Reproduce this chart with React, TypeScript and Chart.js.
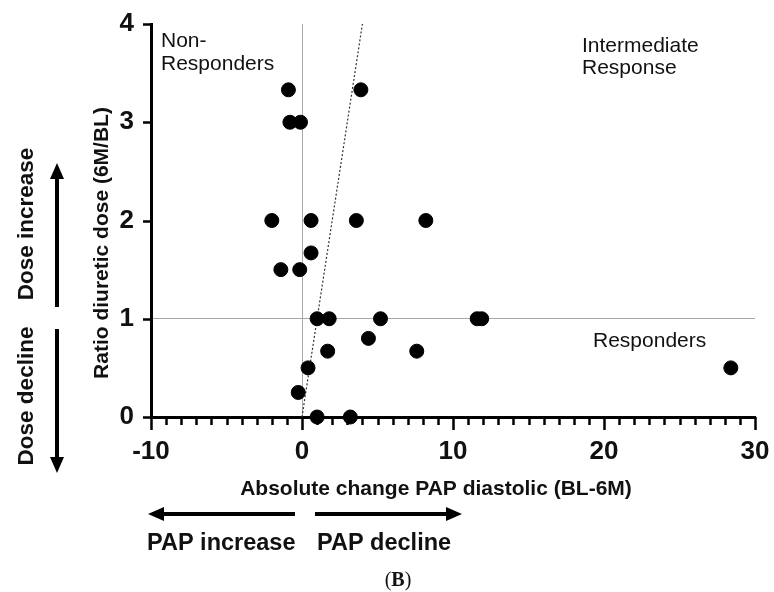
import React, { useEffect, useRef } from "react";
import { Chart, registerables } from "chart.js";

Chart.register(...registerables);

const xValues = [-0.9, 3.9, -0.8, -0.1, -2.0, 0.6, 3.6, 8.2, 0.6, -1.4, -0.15, 1.0, 1.8, 5.2, 11.6, 11.9, 4.4, 1.7, 7.6, 0.4, 28.4, -0.25, 1.0, 3.2];
const yValues = [3.33, 3.33, 3.0, 3.0, 2.0, 2.0, 2.0, 2.0, 1.67, 1.5, 1.5, 1.0, 1.0, 1.0, 1.0, 1.0, 0.8, 0.67, 0.67, 0.5, 0.5, 0.25, 0.0, 0.0];
const identityLineX = [0, 4];
const identityLineY = [0, 4];
const xTickLabels = [-10, 0, 10, 20, 30];
const yTickLabels = [0, 1, 2, 3, 4];
const xTitle = "Absolute change PAP diastolic (BL-6M)";
const yTitle = "Ratio diuretic dose (6M/BL)";

const SANS = "'Liberation Sans', Arial, sans-serif";

const extrasPlugin = {
  id: "extras",
  afterDraw(chart: any) {
    const ctx = chart.ctx;
    const xs = chart.scales.x;
    const ys = chart.scales.y;
    const area = chart.chartArea;
    ctx.save();
    // tick marks
    ctx.strokeStyle = "#000";
    ctx.lineWidth = 2.5;
    ctx.beginPath();
    for (let v = xs.min; v <= xs.max; v += 1) {
      const px = Math.round(xs.getPixelForValue(v)) + 0.5;
      const len = v % 10 === 0 ? 13 : 8;
      ctx.moveTo(px, area.bottom);
      ctx.lineTo(px, area.bottom + len);
    }
    for (const v of yTickLabels) {
      const py = Math.round(ys.getPixelForValue(v)) + 0.5;
      ctx.moveTo(area.left, py);
      ctx.lineTo(area.left - 8, py);
    }
    ctx.stroke();

    ctx.fillStyle = "#111";
    // quadrant annotations
    ctx.font = `21px ${SANS}`;
    ctx.textAlign = "left";
    ctx.textBaseline = "alphabetic";
    ctx.fillText("Non-", 161, 47);
    ctx.fillText("Responders", 161, 70);
    ctx.fillText("Intermediate", 582, 52);
    ctx.fillText("Response", 582, 74);
    ctx.fillText("Responders", 593, 347);

    // axis titles
    ctx.font = `bold 21px ${SANS}`;
    ctx.textAlign = "center";
    ctx.fillText(xTitle, 436, 495);
    ctx.save();
    ctx.translate(108, 243);
    ctx.rotate(-Math.PI / 2);
    ctx.fillText(yTitle, 0, 0);
    ctx.restore();

    // dose labels
    ctx.font = `bold 22.5px ${SANS}`;
    ctx.save();
    ctx.translate(33, 224);
    ctx.rotate(-Math.PI / 2);
    ctx.fillText("Dose increase", 0, 0);
    ctx.restore();
    ctx.save();
    ctx.translate(33, 396);
    ctx.rotate(-Math.PI / 2);
    ctx.fillText("Dose decline", 0, 0);
    ctx.restore();

    // PAP labels
    ctx.font = `bold 23.5px ${SANS}`;
    ctx.textAlign = "left";
    ctx.fillText("PAP increase", 147, 550);
    ctx.fillText("PAP decline", 317, 550);

    // arrows
    const arrow = (x1: number, y1: number, x2: number, y2: number) => {
      const ang = Math.atan2(y2 - y1, x2 - x1);
      const hl = 16;
      const hw = 7;
      const bx = x2 - hl * Math.cos(ang);
      const by = y2 - hl * Math.sin(ang);
      ctx.strokeStyle = "#000";
      ctx.lineWidth = 4;
      ctx.beginPath();
      ctx.moveTo(x1, y1);
      ctx.lineTo(bx, by);
      ctx.stroke();
      ctx.fillStyle = "#000";
      ctx.beginPath();
      ctx.moveTo(x2, y2);
      ctx.lineTo(bx - hw * Math.sin(ang), by + hw * Math.cos(ang));
      ctx.lineTo(bx + hw * Math.sin(ang), by - hw * Math.cos(ang));
      ctx.closePath();
      ctx.fill();
    };
    arrow(57, 307, 57, 163);
    arrow(57, 329, 57, 473);
    arrow(295, 514, 148, 514);
    arrow(315, 514, 462, 514);

    // (B)
    ctx.fillStyle = "#111";
    ctx.textAlign = "left";
    ctx.font = `20px 'Liberation Serif', serif`;
    const pw = ctx.measureText("(").width;
    ctx.font = `bold 20px 'Liberation Serif', serif`;
    const bw = ctx.measureText("B").width;
    const total = pw * 2 + bw;
    const sx = 398 - total / 2;
    ctx.font = `20px 'Liberation Serif', serif`;
    ctx.fillText("(", sx, 586);
    ctx.font = `bold 20px 'Liberation Serif', serif`;
    ctx.fillText("B", sx + pw, 586);
    ctx.font = `20px 'Liberation Serif', serif`;
    ctx.fillText(")", sx + pw + bw, 586);
    ctx.restore();
  },
};

export default function App() {
  const ref = useRef<HTMLCanvasElement | null>(null);
  useEffect(() => {
    if (!ref.current) return;
    const points = xValues.map((x, i) => ({ x, y: yValues[i] }));
    const line = identityLineX.map((x, i) => ({ x, y: identityLineY[i] }));
    const chart = new Chart(ref.current, {
      type: "scatter",
      data: {
        datasets: [
          {
            type: "line",
            data: line,
            borderColor: "#333",
            borderWidth: 1.2,
            borderDash: [2, 2],
            pointRadius: 0,
            fill: false,
            order: 2,
          } as any,
          {
            data: points,
            backgroundColor: "#000",
            borderColor: "#000",
            pointRadius: 7,
            pointHoverRadius: 7,
            clip: false,
            order: 1,
          } as any,
        ],
      },
      options: {
        responsive: false,
        animation: false,
        layout: { padding: { top: 24, right: 19, left: 0, bottom: 0 } },
        plugins: { legend: { display: false }, tooltip: { enabled: false } },
        scales: {
          x: {
            type: "linear",
            min: -10,
            max: 30,
            afterFit: (s: any) => {
              s.height = 175;
              s.paddingLeft = 0;
              s.paddingRight = 0;
              s.paddingTop = 0;
              s.paddingBottom = 0;
            },
            afterBuildTicks: (s: any) => {
              const t = [];
              for (let v = -10; v <= 30; v++) t.push({ value: v });
              s.ticks = t;
            },
            ticks: {
              autoSkip: false,
              maxRotation: 0,
              padding: 19,
              color: "#111",
              font: { family: SANS, size: 26, weight: "bold" },
              callback: (v: any) => (xTickLabels.includes(Number(v)) ? String(v) : ""),
            },
            grid: {
              drawTicks: false,
              lineWidth: 1,
              color: (c: any) => (c.tick && c.tick.value === 0 ? "#a8a8a8" : "rgba(0,0,0,0)"),
            },
            border: { display: true, color: "#000", width: 3 },
          },
          y: {
            type: "linear",
            min: 0,
            max: 4,
            afterFit: (s: any) => {
              s.width = 151;
              s.paddingLeft = 0;
              s.paddingRight = 0;
              s.paddingTop = 0;
              s.paddingBottom = 0;
            },
            afterBuildTicks: (s: any) => {
              s.ticks = yTickLabels.map((v) => ({ value: v }));
            },
            ticks: {
              padding: 17,
              color: "#111",
              font: { family: SANS, size: 26, weight: "bold" },
            },
            grid: {
              drawTicks: false,
              lineWidth: 1,
              color: (c: any) => (c.tick && c.tick.value === 1 ? "#a8a8a8" : "rgba(0,0,0,0)"),
            },
            border: { display: true, color: "#000", width: 3 },
          },
        },
      },
      plugins: [extrasPlugin],
    });
    return () => chart.destroy();
  }, []);
  return (
    <div style={{ position: "absolute", left: 0, top: 0, width: 774, height: 592, background: "#fff" }}>
      <canvas ref={ref} width={774} height={592} />
    </div>
  );
}
